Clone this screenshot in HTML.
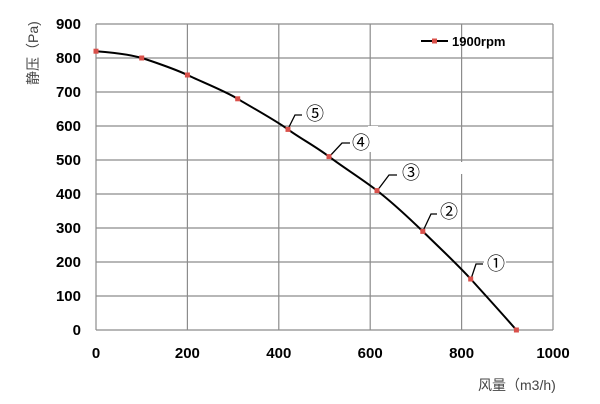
<!DOCTYPE html><html><head><meta charset="utf-8"><style>body{margin:0;background:#fff}svg{display:block}</style></head><body>
<svg width="600" height="404" xmlns="http://www.w3.org/2000/svg" font-family="Liberation Sans, Noto Sans CJK SC, sans-serif">
<rect width="600" height="404" fill="#fff"/>
<g stroke="#8c8c8c" stroke-width="1.2" fill="none">
<path d="M96 24H553M96 58H553M96 92H553M96 126H553M96 160H553M96 194H553M96 228H553M96 262H553M96 296H553M96 330H553"/>
<path d="M96 24V330M187.4 24V330M278.8 24V330M370.2 24V330M461.6 24V330M553 24V330"/>
</g>
<g fill="#fff">
<rect x="305" y="103" width="22" height="20"/><rect x="350" y="132" width="22" height="20"/><rect x="399" y="162" width="22" height="20"/><rect x="437" y="201" width="22" height="20"/><rect x="484" y="253" width="22" height="20"/>
<rect x="368" y="126" width="10" height="6"/><rect x="455" y="162" width="8" height="12"/>
</g>
<g font-size="18" fill="#000" font-family="Noto Sans CJK SC, sans-serif">
<text x="315" y="120" text-anchor="middle">⑤</text><text x="361" y="149" text-anchor="middle">④</text><text x="411" y="179" text-anchor="middle">③</text><text x="449" y="218" text-anchor="middle">②</text><text x="496" y="270" text-anchor="middle">①</text>
</g>
<g stroke="#000" stroke-width="1.3" fill="none">
<path d="M288 129L295 115H302"/><path d="M329 157L342 143H350"/><path d="M377 191L389 175H397"/><path d="M423 231L431 214H437"/><path d="M471 279L476 264H483"/>
</g>
<path d="M96 51.2C120 53 135 56 141.7 58S175 69 187.4 75S225 91 237.7 98.8S275 120 288 129.4S315 146 329 156.6S362 179 377 190.6S410 219 422.8 231.4S458 265 470.7 279S505 317 516.4 330" stroke="#000" stroke-width="2" fill="none"/>
<g fill="#d9504a">
<rect x="93.5" y="48.7" width="5" height="5"/><rect x="139.2" y="55.5" width="5" height="5"/><rect x="184.9" y="72.5" width="5" height="5"/><rect x="235.2" y="96.3" width="5" height="5"/><rect x="285.5" y="126.9" width="5" height="5"/><rect x="326.5" y="154.1" width="5" height="5"/><rect x="374.5" y="188.1" width="5" height="5"/><rect x="420.3" y="228.9" width="5" height="5"/><rect x="468.2" y="276.5" width="5" height="5"/><rect x="513.9" y="327.5" width="5" height="5"/>
</g>
<path d="M421 41H448" stroke="#000" stroke-width="2"/><rect x="432" y="38.5" width="5" height="5" fill="#d9504a"/>
<text x="452" y="46" font-size="13" font-weight="bold">1900rpm</text>
<g font-size="15" font-weight="bold" text-anchor="end">
<text x="81" y="29">900</text><text x="81" y="63">800</text><text x="81" y="97">700</text><text x="81" y="131">600</text><text x="81" y="165">500</text><text x="81" y="199">400</text><text x="81" y="233">300</text><text x="81" y="267">200</text><text x="81" y="301">100</text><text x="81" y="335">0</text>
</g>
<g font-size="15" font-weight="bold" text-anchor="middle">
<text x="96" y="358">0</text><text x="187.4" y="358">200</text><text x="278.8" y="358">400</text><text x="370.2" y="358">600</text><text x="461.6" y="358">800</text><text x="553" y="358">1000</text>
</g>
<text x="478" y="390" font-size="14" fill="#444">风量（m3/h)</text>
<text transform="translate(38,85) rotate(-90)" font-size="14" fill="#444">静压（Pa)</text>
</svg>
</body></html>
